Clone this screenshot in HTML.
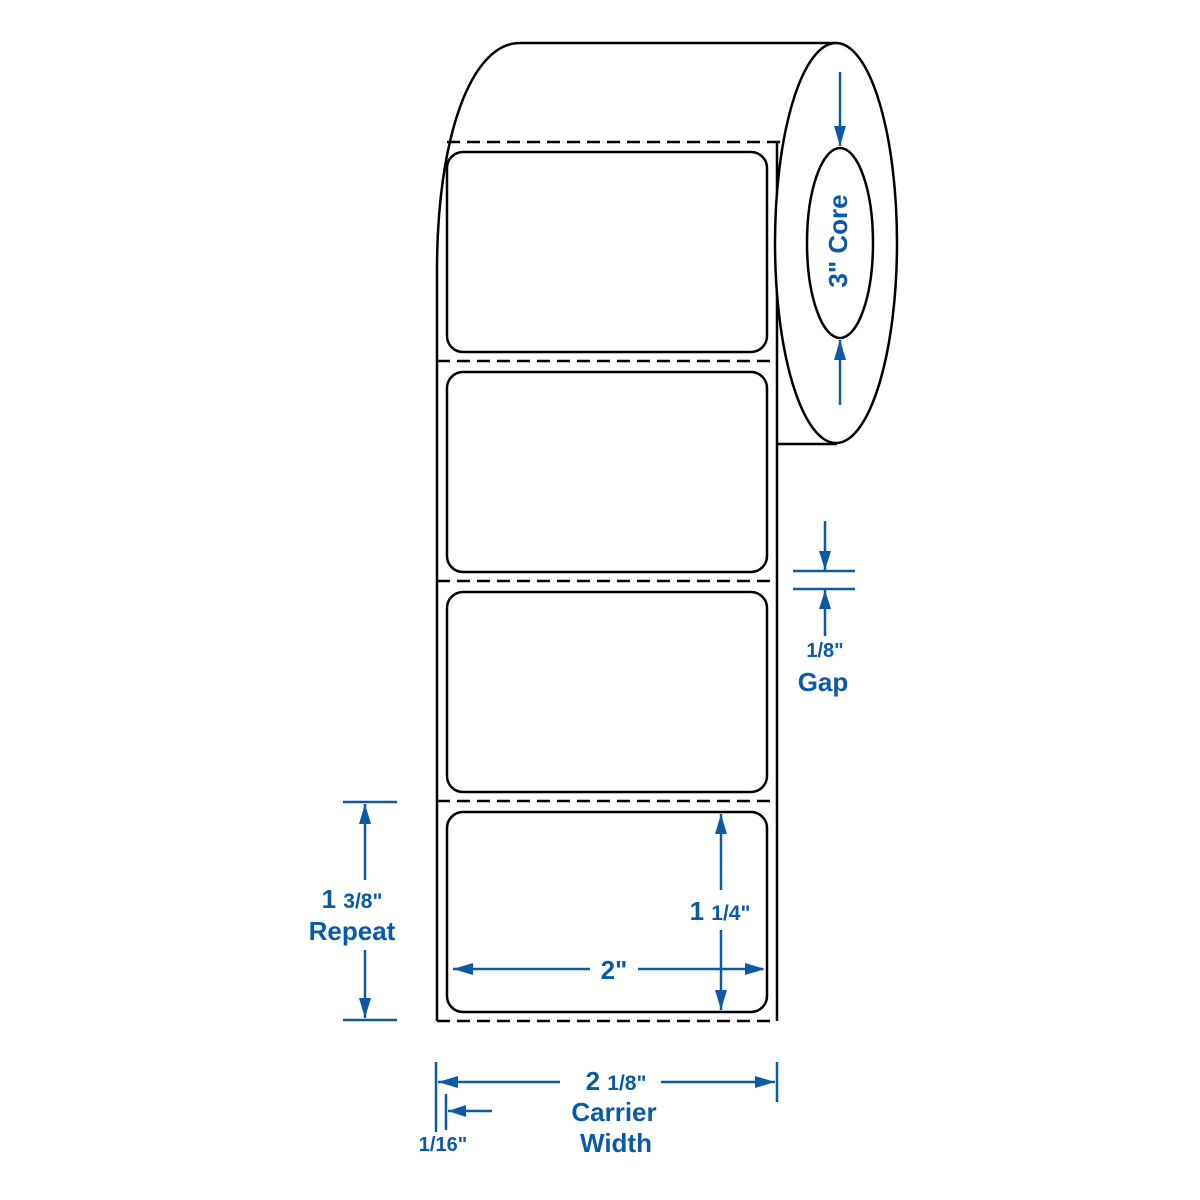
<!DOCTYPE html>
<html><head><meta charset="utf-8"><style>html,body{margin:0;padding:0;background:#fff}svg{display:block}text{font-family:"Liberation Sans",sans-serif;font-weight:bold;fill:#0b5aa6}</style></head>
<body>
<svg width="1200" height="1200" viewBox="0 0 1200 1200" xmlns="http://www.w3.org/2000/svg">
<g fill="none" stroke="#000" stroke-width="2.5">
<path d="M437,1021 L437,270 C437,140 470,43 520,43 L836,43"/>
<line x1="777" y1="142" x2="777" y2="1021"/>
<g stroke-dasharray="13,7">
<line x1="447" y1="142" x2="784" y2="142"/>
<line x1="437" y1="361" x2="777" y2="361"/>
<line x1="437" y1="581" x2="777" y2="581"/>
<line x1="437" y1="801" x2="777" y2="801"/>
<line x1="437" y1="1021" x2="777" y2="1021"/>
</g>
<ellipse cx="836" cy="243" rx="61" ry="200" fill="#fff"/>
<ellipse cx="840" cy="243" rx="33" ry="95"/>
<line x1="777" y1="444" x2="837" y2="444"/>
<rect x="447" y="152" width="320" height="200" rx="16"/>
<rect x="447" y="372" width="320" height="200" rx="16"/>
<rect x="447" y="592" width="320" height="200" rx="16"/>
<rect x="447" y="812" width="320" height="200" rx="16"/>
</g>
<g stroke="#0b5aa6" stroke-width="2.5" fill="#0b5aa6">
<line x1="840" y1="72" x2="840" y2="146"/><path d="M834,126 L846,126 L840,146z" stroke="none"/>
<line x1="840" y1="405" x2="840" y2="340"/><path d="M834,360 L846,360 L840,340z" stroke="none"/>
<line x1="793" y1="571" x2="855" y2="571"/><line x1="793" y1="589" x2="855" y2="589"/>
<line x1="825" y1="521" x2="825" y2="570"/><path d="M819,551 L831,551 L825,570z" stroke="none"/>
<line x1="825" y1="636" x2="825" y2="590"/><path d="M819,609 L831,609 L825,590z" stroke="none"/>
<line x1="343" y1="802" x2="397" y2="802"/><line x1="343" y1="1020" x2="397" y2="1020"/>
<line x1="365" y1="880" x2="365" y2="804"/><path d="M359,824 L371,824 L365,804z" stroke="none"/>
<line x1="365" y1="950" x2="365" y2="1018"/><path d="M359,998 L371,998 L365,1018z" stroke="none"/>
<line x1="721" y1="890" x2="721" y2="814"/><path d="M715,834 L727,834 L721,814z" stroke="none"/>
<line x1="721" y1="930" x2="721" y2="1010"/><path d="M715,990 L727,990 L721,1010z" stroke="none"/>
<line x1="453" y1="969" x2="590" y2="969"/><path d="M453,969 L473,963 L473,975z" stroke="none"/>
<line x1="638" y1="969" x2="763" y2="969"/><path d="M765,969 L745,963 L745,975z" stroke="none"/>
<line x1="436" y1="1062" x2="436" y2="1132"/><line x1="777" y1="1062" x2="777" y2="1102"/>
<line x1="438" y1="1082" x2="560" y2="1082"/><path d="M438,1082 L458,1076 L458,1088z" stroke="none"/>
<line x1="661" y1="1082" x2="775" y2="1082"/><path d="M775,1082 L755,1076 L755,1088z" stroke="none"/>
<line x1="446" y1="1094" x2="446" y2="1130"/>
<line x1="448" y1="1111" x2="492" y2="1111"/><path d="M448,1111 L466,1105 L466,1117z" stroke="none"/>
</g>
<text x="840" y="241" font-size="26" text-anchor="middle" dominant-baseline="middle" transform="rotate(-90 840 241)">3" Core</text>
<text x="825" y="657" font-size="20" text-anchor="middle">1/8"</text>
<text x="823" y="691" font-size="26" text-anchor="middle">Gap</text>
<text x="352" y="908" font-size="26" text-anchor="middle">1 <tspan font-size="21">3/8"</tspan></text>
<text x="352" y="940" font-size="26" text-anchor="middle">Repeat</text>
<text x="720" y="920" font-size="26" text-anchor="middle">1 <tspan font-size="21">1/4"</tspan></text>
<text x="614" y="979" font-size="26" text-anchor="middle">2"</text>
<text x="616" y="1090" font-size="26" text-anchor="middle">2 <tspan font-size="21">1/8"</tspan></text>
<text x="614" y="1121" font-size="26" text-anchor="middle">Carrier</text>
<text x="616" y="1152" font-size="26" text-anchor="middle">Width</text>
<text x="443" y="1151" font-size="20" text-anchor="middle">1/16"</text>
</svg>
</body></html>
